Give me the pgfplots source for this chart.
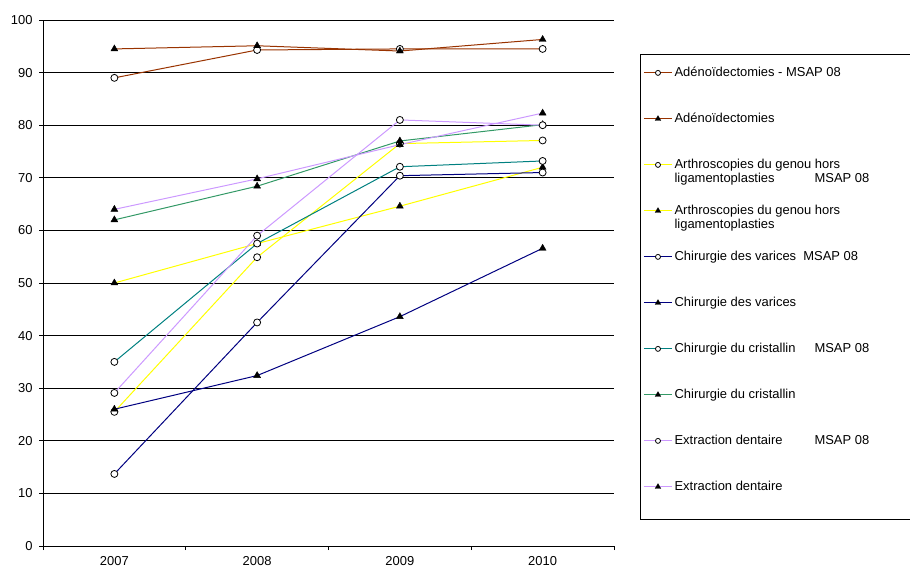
\documentclass[border=0pt]{standalone}
\usepackage{fontspec}
\setmainfont{Liberation Sans}
\usepackage{pgfplots}
\pgfplotsset{compat=1.18}
\definecolor{cBrown}{HTML}{993300}
\definecolor{cYellow}{HTML}{FFFF00}
\definecolor{cNavy}{HTML}{000080}
\definecolor{cTeal}{HTML}{008080}
\definecolor{cGreen}{HTML}{339966}
\definecolor{cLav}{HTML}{CC99FF}
\newcommand{\LE}[1]{\parbox[t]{240bp}{\raggedright #1}}
\pgfplotsset{
  circ/.style={mark=*, mark size=3.5bp, mark options={solid, fill=white, draw=black, line width=0.8bp},
    legend image post style={mark size=2.5bp}},
  tri/.style={mark=triangle*, mark size=4bp, mark options={solid, fill=black, draw=black, line width=0.4bp},
    legend image post style={mark size=3.2bp}},
  lc/.style={legend image code/.code={%
    \draw[draw=#1, line width=1.2bp] (0bp,3.5bp) -- (28bp,3.5bp);
    \path[##1, draw=none] plot coordinates {(14bp,3.5bp)};}},
}
\begin{document}
\begin{tikzpicture}
\begin{axis}[
  at={(0,0)}, anchor=south west,
  scale only axis, width=571bp, height=526bp,
  xmin=2006.5, xmax=2010.5, ymin=0, ymax=100,
  xtick={2006.5,2007.5,2008.5,2009.5,2010.5},
  xticklabels={2007,2008,2009,2010},
  x tick label as interval,
  ytick={0,10,...,100},
  ymajorgrids, major grid style={black, line width=0.8bp},
  axis x line*=bottom, axis y line*=left,
  axis line style={-, black, line width=0.8bp},
  tick align=outside, major tick length=4bp,
  tick style={black, line width=0.8bp},
  ticklabel style={font=\fontsize{13}{14}\selectfont},
  /pgf/number format/assume math mode=true,
  yticklabel style={xshift=-3bp},
  xticklabel style={yshift=-3bp},
  legend style={
    at={(1.0455,0.9354)}, anchor=north west,
    draw=black, line width=0.8bp, fill=white,
    inner xsep=3bp, inner ysep=12bp,
    row sep=19bp, column sep=2bp,
    font=\fontsize{13}{14}\selectfont,
    nodes={inner sep=0pt, text height=10bp, text depth=17bp},
    cells={anchor=base west},
  },
  every axis plot/.append style={line width=1bp},
]
\addplot[cBrown, circ, lc=cBrown] coordinates {(2007,89.0)(2008,94.3)(2009,94.5)(2010,94.5)};
\addlegendentry{\LE{Adénoïdectomies - MSAP 08}}
\addplot[cBrown, tri, lc=cBrown] coordinates {(2007,94.5)(2008,95.1)(2009,94.1)(2010,96.3)};
\addlegendentry{\LE{Adénoïdectomies}}
\addplot[cYellow, circ, lc=cYellow] coordinates {(2007,25.5)(2008,54.9)(2009,76.5)(2010,77.1)};
\addlegendentry{\LE{Arthroscopies du genou hors\\\makebox[140bp][l]{ligamentoplasties}MSAP 08}}
\addplot[cYellow, tri, lc=cYellow] coordinates {(2007,50.0)(2008,57.5)(2009,64.6)(2010,72.0)};
\addlegendentry{\LE{Arthroscopies du genou hors\\ligamentoplasties}}
\addplot[cNavy, circ, lc=cNavy] coordinates {(2007,13.7)(2008,42.5)(2009,70.4)(2010,71.0)};
\addlegendentry{\LE{Chirurgie des varices\ \ MSAP 08}}
\addplot[cNavy, tri, lc=cNavy] coordinates {(2007,26.0)(2008,32.4)(2009,43.6)(2010,56.6)};
\addlegendentry{\LE{Chirurgie des varices}}
\addplot[cTeal, circ, lc=cTeal] coordinates {(2007,35.0)(2008,57.5)(2009,72.1)(2010,73.2)};
\addlegendentry{\LE{\makebox[140bp][l]{Chirurgie du cristallin}MSAP 08}}
\addplot[cGreen, tri, lc=cGreen] coordinates {(2007,62.0)(2008,68.4)(2009,77.0)(2010,80.1)};
\addlegendentry{\LE{Chirurgie du cristallin}}
\addplot[cLav, circ, lc=cLav] coordinates {(2007,29.1)(2008,59.0)(2009,81.0)(2010,80.0)};
\addlegendentry{\LE{\makebox[140bp][l]{Extraction dentaire}MSAP 08}}
\addplot[cLav, tri, lc=cLav] coordinates {(2007,64.0)(2008,69.8)(2009,76.3)(2010,82.3)};
\addlegendentry{\LE{Extraction dentaire}}
\end{axis}
\pgfresetboundingbox
\path[use as bounding box] (-43bp,-23bp) rectangle (867bp,546bp);
\end{tikzpicture}
\end{document}
